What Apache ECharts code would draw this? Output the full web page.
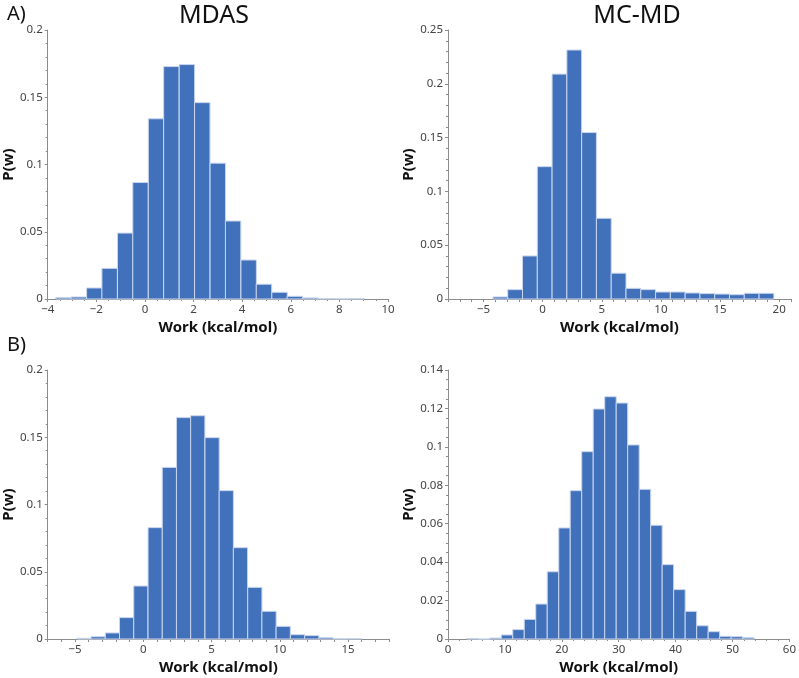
<!DOCTYPE html>
<html>
<head>
<meta charset="utf-8">
<script src="https://cdn.jsdelivr.net/npm/echarts@6/dist/echarts.min.js"></script>
<style>
  html, body { margin: 0; padding: 0; background: #fff; }
  #main { width: 799px; height: 678px; }
</style>
</head>
<body>
<div id="main"></div>
<script>
// panel A, MDAS: bin left edges, bin width, P(w)
var mdasA_left = [-3.67, -3.04, -2.40, -1.77, -1.13, -0.50, 0.14, 0.77, 1.41, 2.04,
                  2.68, 3.31, 3.95, 4.58, 5.22, 5.85, 6.49, 7.12, 7.76, 8.39];
var mdasA_width = 0.635;
var mdasA_p = [0.001, 0.0015, 0.0082, 0.0228, 0.049, 0.0866, 0.134, 0.1728, 0.1743, 0.146,
               0.101, 0.058, 0.029, 0.011, 0.005, 0.002, 0.0008, 0.0004, 0.0002, 0.0003];

// panel A, MC-MD
var mcmdA_left = [-4.2, -2.95, -1.7, -0.45, 0.8, 2.05, 3.3, 4.55, 5.8, 7.05,
                  8.3, 9.55, 10.8, 12.05, 13.3, 14.55, 15.8, 17.05, 18.3];
var mcmdA_width = 1.25;
var mcmdA_p = [0.0019, 0.0087, 0.040, 0.123, 0.209, 0.2314, 0.1547, 0.075, 0.024, 0.0099,
               0.0087, 0.0065, 0.0065, 0.0056, 0.005, 0.0046, 0.004, 0.0053, 0.0053];

// panel B, MDAS
var mdasB_left = [-4.87, -3.83, -2.78, -1.74, -0.70, 0.35, 1.39, 2.43, 3.47, 4.52,
                  5.56, 6.60, 7.65, 8.69, 9.73, 10.78, 11.82, 12.86, 13.90, 14.95];
var mdasB_width = 1.043;
var mdasB_p = [0.0005, 0.0017, 0.0045, 0.0159, 0.0394, 0.0828, 0.1276, 0.1646, 0.166, 0.1497,
               0.1103, 0.0679, 0.0384, 0.0206, 0.0094, 0.0032, 0.0025, 0.001, 0.0002, 0.0003];

// panel B, MC-MD
var mcmdB_left = [3.30, 5.32, 7.34, 9.36, 11.38, 13.40, 15.42, 17.44, 19.46, 21.48,
                  23.50, 25.52, 27.54, 29.56, 31.58, 33.60, 35.62, 37.64, 39.66, 41.68,
                  43.70, 45.72, 47.74, 49.76, 51.78];
var mcmdB_width = 2.02;
var mcmdB_p = [0.0002, 0, 0.0005, 0.0021, 0.0049, 0.0102, 0.0182, 0.035, 0.0578, 0.0772,
               0.0975, 0.1197, 0.1261, 0.1228, 0.101, 0.0779, 0.0592, 0.0387, 0.0257, 0.0144,
               0.0069, 0.0038, 0.0014, 0.0012, 0.0007];

var FONT = 'Noto Sans';
var BAR = '#4271BB';

function bins(left, width, p) {
    return left.map(function (x, i) { return [x, x + width, p[i]]; });
}

function renderBin(params, api) {
    var a = api.coord([api.value(0), api.value(2)]);
    var b = api.coord([api.value(1), 0]);
    return {
        type: 'rect',
        shape: { x: a[0], y: a[1], width: b[0] - a[0], height: b[1] - a[1] },
        style: { fill: BAR, stroke: '#c9d6ee', lineWidth: 1 }
    };
}

function minus(v) {
    return String(v).replace('-', '\u2212');
}

// x axis; every = label step when the tick step (interval) is finer than the labels
function xAxis(grid, min, max, interval, minorSplit, every) {
    return {
        type: 'value', gridIndex: grid, min: min, max: max, interval: interval,
        name: 'Work (kcal/mol)', nameLocation: 'middle', nameGap: 21,
        nameTextStyle: { fontFamily: FONT, fontWeight: 'bold', fontSize: 15, color: '#111' },
        splitLine: { show: false },
        axisLine: { onZero: false, lineStyle: { color: '#8c8c8c' } },
        axisTick: { length: 3, lineStyle: { color: '#8c8c8c' } },
        minorTick: { show: minorSplit > 0, splitNumber: minorSplit || 5, length: 2, lineStyle: { color: '#8c8c8c' } },
        axisLabel: {
            fontFamily: FONT, fontSize: 11.5, color: '#444', margin: 5,
            formatter: function (v) {
                if (every && Math.round(v) % every !== 0) return '';
                return minus(v);
            }
        }
    };
}

function yAxis(grid, max, interval, minorSplit) {
    return {
        type: 'value', gridIndex: grid, min: 0, max: max, interval: interval,
        name: 'P(w)', nameLocation: 'middle', nameGap: 26, nameRotate: 90,
        nameTextStyle: { fontFamily: FONT, fontWeight: 'bold', fontSize: 15, color: '#111' },
        splitLine: { show: false },
        axisLine: { show: true, onZero: false, lineStyle: { color: '#8c8c8c' } },
        axisTick: { show: true, length: 3, lineStyle: { color: '#8c8c8c' } },
        minorTick: { show: true, splitNumber: minorSplit, length: 2, lineStyle: { color: '#8c8c8c' } },
        axisLabel: { fontFamily: FONT, fontSize: 11.5, color: '#444', margin: 5 }
    };
}

function series(idx, data) {
    return {
        type: 'custom', xAxisIndex: idx, yAxisIndex: idx,
        renderItem: renderBin,
        encode: { x: [0, 1], y: 2 },
        data: data
    };
}

var chart = echarts.init(document.getElementById('main'), null, { renderer: 'canvas' });

chart.setOption({
    animation: false,
    backgroundColor: '#fff',
    title: [
        { text: 'MDAS', left: 209, top: -2, textAlign: 'center',
          textStyle: { fontFamily: FONT, fontSize: 25, fontWeight: 'normal', color: '#111' } },
        { text: 'MC-MD', left: 632, top: -2, textAlign: 'center',
          textStyle: { fontFamily: FONT, fontSize: 25, fontWeight: 'normal', color: '#111' } },
        { text: 'A)', left: 2, top: -1,
          textStyle: { fontFamily: FONT, fontSize: 20, fontWeight: 'normal', color: '#111' } },
        { text: 'B)', left: 2, top: 330,
          textStyle: { fontFamily: FONT, fontSize: 20, fontWeight: 'normal', color: '#111' } }
    ],
    grid: [
        { left: 46, top: 30, width: 342, height: 269 },
        { left: 448, top: 30, width: 343, height: 269 },
        { left: 47, top: 370, width: 342, height: 269 },
        { left: 448, top: 370, width: 343, height: 269 }
    ],
    xAxis: [
        xAxis(0, -4, 10, 2, 4),
        xAxis(1, -8, 21, 1, 0, 5),
        xAxis(2, -7, 18, 1, 0, 5),
        xAxis(3, 0, 60, 10, 5)
    ],
    yAxis: [
        yAxis(0, 0.2, 0.05, 5),
        yAxis(1, 0.25, 0.05, 5),
        yAxis(2, 0.2, 0.05, 5),
        yAxis(3, 0.14, 0.02, 4)
    ],
    series: [
        series(0, bins(mdasA_left, mdasA_width, mdasA_p)),
        series(1, bins(mcmdA_left, mcmdA_width, mcmdA_p)),
        series(2, bins(mdasB_left, mdasB_width, mdasB_p)),
        series(3, bins(mcmdB_left, mcmdB_width, mcmdB_p))
    ]
});
</script>
</body>
</html>
